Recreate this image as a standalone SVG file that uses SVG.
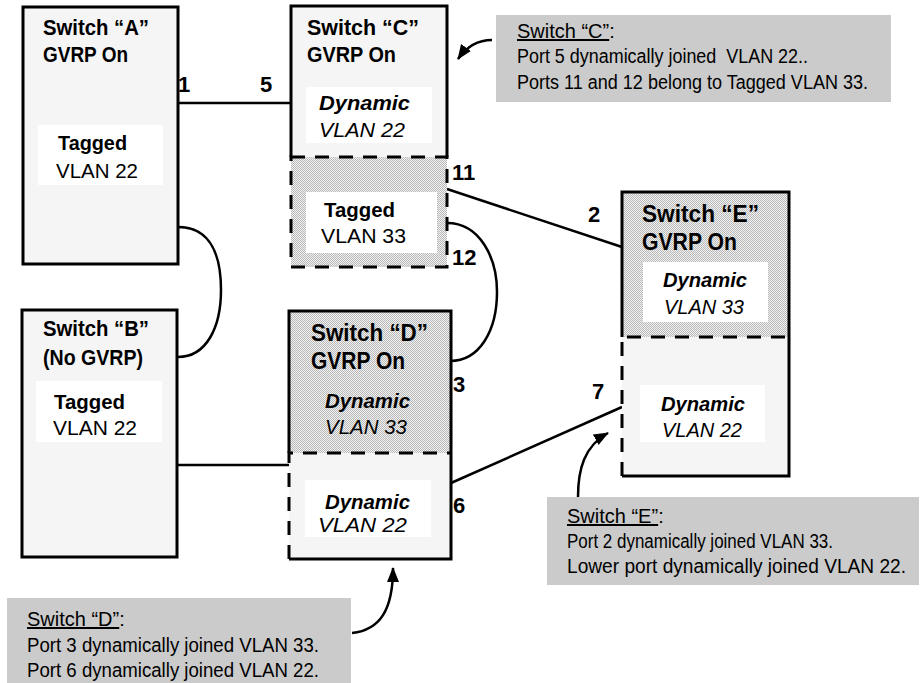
<svg xmlns="http://www.w3.org/2000/svg" width="922" height="683" viewBox="0 0 922 683">
<defs>
<pattern id="hatch" width="2" height="2" patternUnits="userSpaceOnUse"><rect width="2" height="2" fill="#f2f2f2"/><rect width="1" height="1" fill="#b8b8b8"/><rect x="1" y="1" width="1" height="1" fill="#b8b8b8"/></pattern>
<marker id="ah" markerUnits="userSpaceOnUse" markerWidth="16" markerHeight="14" refX="14" refY="7" orient="auto"><path d="M0,1 L15,7 L0,13 Z" fill="#000"/></marker>
<style>
text{font-family:"Liberation Sans Narrow","Liberation Sans",Arial,sans-serif;fill:#000}
.t{font-size:22px;font-weight:bold}
.tb{font-size:24px;font-weight:bold}
.b{font-size:20px;font-weight:bold}
.r{font-size:20px}
.bi{font-size:20px;font-weight:bold;font-style:italic}
.i{font-size:20px;font-style:italic}
.p{font-size:22px;font-weight:bold}
.c{font-size:20px;white-space:pre}
.u{text-decoration:underline}
.light{fill:#f5f5f5}
.hatch{fill:url(#hatch)}
.white{fill:#fff}
.solid{fill:none;stroke:#000;stroke-width:3}
.dash{fill:none;stroke:#000;stroke-width:3;stroke-dasharray:14 10}
.wire{fill:none;stroke:#000;stroke-width:2.5}
.call{fill:#cbcbcb}
.arr{fill:none;stroke:#000;stroke-width:2.5;marker-end:url(#ah)}
</style>
</defs>
<rect width="922" height="683" fill="#fff"/>

<g id="connectors">
<line class="wire" x1="178" y1="103" x2="291" y2="103"/>
<path class="wire" d="M178,227 C212,227 221,258 221,290 C221,328 206,357 178,357"/>
<line class="wire" x1="177" y1="465" x2="290" y2="465"/>
<line class="wire" x1="447" y1="189" x2="622" y2="247"/>
<path class="wire" d="M447,223 C480,223 497,258 497,292 C497,330 480,361 450,361"/>
<line class="wire" x1="451" y1="483" x2="622" y2="407"/>
<path class="arr" d="M492,40 C478,40 467,46 458,59"/>
<path class="arr" d="M352,633 C380,630 393,610 393,568"/>
<path class="arr" d="M578,497 C578,470 584,446 608,433"/>
</g>

<g id="switchA">
<rect x="23" y="7" width="155" height="257" class="light"/>
<rect x="23" y="7" width="155" height="257" class="solid"/>
<rect x="38" y="125" width="125" height="60" class="white"/>
<text class="t" x="43" y="35" textLength="106" lengthAdjust="spacingAndGlyphs">Switch “A”</text>
<text class="t" x="43" y="62" textLength="85" lengthAdjust="spacingAndGlyphs">GVRP On</text>
<text class="b" x="58" y="150" textLength="69" lengthAdjust="spacingAndGlyphs">Tagged</text>
<text class="r" x="56" y="178" textLength="82" lengthAdjust="spacingAndGlyphs">VLAN 22</text>
</g>

<g id="switchB">
<rect x="22" y="310" width="155" height="247" class="light"/>
<rect x="22" y="310" width="155" height="247" class="solid"/>
<rect x="36" y="381" width="126" height="61" class="white"/>
<text class="t" x="43" y="336" textLength="106" lengthAdjust="spacingAndGlyphs">Switch “B”</text>
<text class="t" x="43" y="365" textLength="100" lengthAdjust="spacingAndGlyphs">(No GVRP)</text>
<text class="b" x="54" y="409" textLength="71" lengthAdjust="spacingAndGlyphs">Tagged</text>
<text class="r" x="53" y="435" textLength="84" lengthAdjust="spacingAndGlyphs">VLAN 22</text>
</g>

<g id="switchC">
<rect x="291" y="6" width="156" height="151" class="light"/>
<rect x="291" y="157" width="156" height="110" class="hatch"/>
<path class="solid" d="M291,157 V6 H447 V157"/>
<rect x="291" y="157" width="156" height="110" class="dash"/>
<rect x="306" y="87" width="126" height="56" class="white"/>
<rect x="306" y="192" width="131" height="61" class="white"/>
<text class="t" x="307" y="35" textLength="112" lengthAdjust="spacingAndGlyphs">Switch “C”</text>
<text class="t" x="307" y="62" textLength="89" lengthAdjust="spacingAndGlyphs">GVRP On</text>
<text class="bi" x="319" y="110" textLength="91" lengthAdjust="spacingAndGlyphs">Dynamic</text>
<text class="i" x="319" y="137" textLength="86" lengthAdjust="spacingAndGlyphs">VLAN 22</text>
<text class="b" x="324" y="217" textLength="71" lengthAdjust="spacingAndGlyphs">Tagged</text>
<text class="r" x="321" y="243" textLength="85" lengthAdjust="spacingAndGlyphs">VLAN 33</text>
</g>

<g id="switchD">
<rect x="289" y="311" width="162" height="142" class="hatch"/>
<rect x="289" y="453" width="162" height="106" class="light"/>
<path class="solid" d="M289,453 V311 H451 V559 H289"/>
<path class="dash" d="M289,559 V453 H451"/>
<rect x="305" y="480" width="126" height="57" class="white"/>
<text class="tb" x="311" y="341" textLength="117" lengthAdjust="spacingAndGlyphs">Switch “D”</text>
<text class="tb" x="311" y="369" textLength="94" lengthAdjust="spacingAndGlyphs">GVRP On</text>
<text class="bi" x="325" y="408" textLength="85" lengthAdjust="spacingAndGlyphs">Dynamic</text>
<text class="i" x="325" y="434" textLength="82" lengthAdjust="spacingAndGlyphs">VLAN 33</text>
<text class="bi" x="325" y="509" textLength="85" lengthAdjust="spacingAndGlyphs">Dynamic</text>
<text class="i" x="318" y="532" textLength="89" lengthAdjust="spacingAndGlyphs">VLAN 22</text>
</g>

<g id="switchE">
<rect x="622" y="192" width="167" height="145" class="hatch"/>
<rect x="622" y="337" width="167" height="139" class="light"/>
<path class="solid" d="M622,337 V192 H789 V476 H622"/>
<path class="dash" d="M622,476 V337 H789"/>
<rect x="643" y="262" width="125" height="60" class="white"/>
<rect x="640" y="385" width="125" height="57" class="white"/>
<text class="tb" x="642" y="222" textLength="117" lengthAdjust="spacingAndGlyphs">Switch “E”</text>
<text class="tb" x="642" y="250" textLength="95" lengthAdjust="spacingAndGlyphs">GVRP On</text>
<text class="bi" x="663" y="287" textLength="84" lengthAdjust="spacingAndGlyphs">Dynamic</text>
<text class="i" x="664" y="314" textLength="80" lengthAdjust="spacingAndGlyphs">VLAN 33</text>
<text class="bi" x="661" y="411" textLength="84" lengthAdjust="spacingAndGlyphs">Dynamic</text>
<text class="i" x="662" y="437" textLength="80" lengthAdjust="spacingAndGlyphs">VLAN 22</text>
</g>

<g id="ports">
<text class="p" x="178" y="92">1</text>
<text class="p" x="260" y="92">5</text>
<text class="p" x="452" y="180">11</text>
<text class="p" x="452" y="265">12</text>
<text class="p" x="588" y="222">2</text>
<text class="p" x="453" y="392">3</text>
<text class="p" x="453" y="513">6</text>
<text class="p" x="592" y="399">7</text>
</g>

<g id="calloutC">
<rect x="496" y="15" width="395" height="87" class="call"/>
<text class="c" x="517" y="38"><tspan class="u">Switch “C”</tspan>:</text>
<text class="c" x="517" y="63" textLength="291" lengthAdjust="spacingAndGlyphs">Port 5 dynamically joined  VLAN 22..</text>
<text class="c" x="517" y="89" textLength="351" lengthAdjust="spacingAndGlyphs">Ports 11 and 12 belong to Tagged VLAN 33.</text>
</g>

<g id="calloutD">
<rect x="7" y="598" width="344" height="85" class="call"/>
<text class="c" x="27" y="626"><tspan class="u">Switch “D”</tspan>:</text>
<text class="c" x="27" y="652" textLength="292" lengthAdjust="spacingAndGlyphs">Port 3 dynamically joined VLAN 33.</text>
<text class="c" x="27" y="677" textLength="292" lengthAdjust="spacingAndGlyphs">Port 6 dynamically joined VLAN 22.</text>
</g>

<g id="calloutE">
<rect x="547" y="497" width="372" height="88" class="call"/>
<text class="c" x="567" y="523"><tspan class="u">Switch “E”</tspan>:</text>
<text class="c" x="567" y="548" textLength="266" lengthAdjust="spacingAndGlyphs">Port 2 dynamically joined VLAN 33.</text>
<text class="c" x="567" y="573" textLength="339" lengthAdjust="spacingAndGlyphs">Lower port dynamically joined VLAN 22.</text>
</g>
</svg>
